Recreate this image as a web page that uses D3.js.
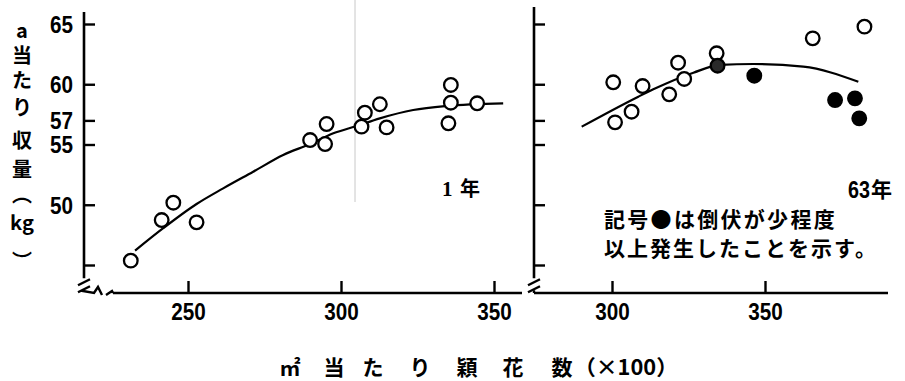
<!DOCTYPE html>
<html><head><meta charset="utf-8">
<script src="https://cdn.jsdelivr.net/npm/d3@7"></script>
<style>
body{margin:0;background:#fff;}
svg{display:block;}
.num{font-family:"Liberation Sans","DejaVu Sans",sans-serif;font-weight:bold;font-size:23px;}
.jp{font-family:"Noto Sans CJK JP","Noto Sans CJK SC",sans-serif;font-weight:bold;}
</style></head>
<body>
<svg id="c" width="905" height="381"></svg>
<script>
// ---------- data ----------
const yTicks = [45, 50, 55, 57, 60, 65];
const yTickLabels = ["", "50", "55", "57", "60", "65"];
const xTicksLeft = [250, 300, 350];
const xTicksRight = [300, 350];

// 1年 (left panel)
const leftX = [231.3, 241.4, 245.2, 252.8, 289.9, 294.8, 295.3, 306.7, 307.8, 312.7, 314.9, 335.9, 335.9, 335.1, 344.5];
const leftY = [45.36, 48.73, 50.17, 48.54, 55.37, 55.04, 56.70, 56.48, 57.64, 58.34, 56.42, 59.94, 58.47, 56.76, 58.42];
const leftCurveX = [232.7, 241.9, 252.8, 261.5, 271.3, 281.1, 289.9, 297.5, 305.1, 312.7, 323.6, 334.5, 353.0];
const leftCurveY = [46.19, 48.05, 50.06, 51.36, 52.74, 54.13, 55.04, 55.93, 56.54, 57.17, 57.86, 58.2, 58.42];

// 63年 (right panel): open = no lodging, filled = lodging, mixed = partial
const rightOpenX = [300.4, 301.0, 306.4, 310.0, 318.7, 321.6, 323.6, 334.2, 365.6, 382.5];
const rightOpenY = [60.16, 56.84, 57.72, 59.85, 59.16, 61.79, 60.44, 62.57, 63.81, 64.78];
const rightMixedX = [334.5];
const rightMixedY = [61.54];
const rightFilledX = [346.5, 372.9, 379.4, 380.8];
const rightFilledY = [60.71, 58.69, 58.83, 57.17];
const rightCurveX = [290.1, 308.6, 313.5, 326.6, 335.3, 346.2, 362.5, 380.5];
const rightCurveY = [56.48, 58.97, 59.58, 60.96, 61.6, 61.68, 61.46, 60.21];

// ---------- drawing ----------
const svg = d3.select("#c");
const y = d3.scaleLinear().domain([45, 65]).range([265, 24]);
const xL = d3.scaleLinear().domain([250, 350]).range([188, 494]);
const xR = d3.scaleLinear().domain([300, 350]).range([612, 765]);
const axisY = 293;
const R = 6.8;
const DIGIT = 11.5;

// scan artifact line
svg.append("line").attr("x1", 355).attr("x2", 355).attr("y1", 0).attr("y2", 202)
  .attr("stroke", "#c8c8c8").attr("stroke-width", 1);

function narrow(sel) {
  sel.attr("class", "num").attr("fill", "#000")
    .attr("textLength", function () { return this.textContent.length * DIGIT; })
    .attr("lengthAdjust", "spacingAndGlyphs");
}

function panel(x, x0, yTop, xEnd, xStart, ticksX, showLabels, squiggle) {
  const g = svg.append("g");
  const ay = d3.axisLeft(y).tickValues(yTicks).tickSize(-11).tickPadding(11)
    .tickFormat((d, i) => showLabels ? yTickLabels[i] : "");
  const gy = g.append("g").attr("transform", `translate(${x0},0)`).call(ay);
  gy.select(".domain").remove();
  gy.selectAll("line").attr("stroke", "#000").attr("stroke-width", 2.4);
  gy.selectAll("text").call(narrow).attr("dy", "0.36em");
  gy.selectAll("text").filter(function () { return this.textContent === ""; }).remove();
  const ax = d3.axisBottom(x).tickValues(ticksX).tickSize(-12).tickPadding(11).tickFormat(d3.format("d"));
  const gx = g.append("g").attr("transform", `translate(0,${axisY})`).call(ax);
  gx.select(".domain").remove();
  gx.selectAll("line").attr("stroke", "#000").attr("stroke-width", 2.4);
  gx.selectAll("text").call(narrow);
  const yb = y(43.9);
  g.append("line").attr("x1", x0).attr("x2", x0).attr("y1", yTop).attr("y2", yb)
    .attr("stroke", "#000").attr("stroke-width", 2.6);
  [0, 7].forEach(o => {
    g.append("line").attr("x1", x0 - 6).attr("y1", yb + 7 + o).attr("x2", x0 + 6).attr("y2", yb + 1 + o)
      .attr("stroke", "#000").attr("stroke-width", 2.4);
  });
  if (squiggle) {
    g.append("path").attr("d", `M${x0},${yb + 12} L${x0 - 1},${axisY - 2} L${x0 + 10},${axisY} L${x0 + 14},${axisY - 6} L${x0 + 18},${axisY + 2} M${x0 + 22},${axisY + 2} L${x0 + 28},${axisY - 2} L${xStart},${axisY}`)
      .attr("fill", "none").attr("stroke", "#000").attr("stroke-width", 2.4);
  } else {
    g.append("line").attr("x1", x0).attr("x2", x0).attr("y1", yb + 12).attr("y2", axisY)
      .attr("stroke", "#000").attr("stroke-width", 2.4);
  }
  g.append("line").attr("x1", xStart).attr("x2", xEnd).attr("y1", axisY).attr("y2", axisY)
    .attr("stroke", "#000").attr("stroke-width", 2.6);
  return g;
}

const gL = panel(xL, 84, 12, 522, 113, xTicksLeft, true, true);
const gR = panel(xR, 534, 7, 888, 534, xTicksRight, false, false);

function curve(g, x, xs, ys) {
  const pts = xs.map((v, i) => [x(v), y(ys[i])]);
  g.append("path").attr("d", d3.line().curve(d3.curveMonotoneX)(pts))
    .attr("fill", "none").attr("stroke", "#000").attr("stroke-width", 2.2);
}
function dots(g, x, xs, ys, fill) {
  g.selectAll(null).data(xs.map((v, i) => [v, ys[i]])).enter().append("circle")
    .attr("cx", d => x(d[0])).attr("cy", d => y(d[1])).attr("r", R)
    .attr("fill", fill).attr("stroke", "#000").attr("stroke-width", 2.3);
}

curve(gL, xL, leftCurveX, leftCurveY);
dots(gL, xL, leftX, leftY, "#fff");
curve(gR, xR, rightCurveX, rightCurveY);
dots(gR, xR, rightOpenX, rightOpenY, "#fff");
dots(gR, xR, rightMixedX, rightMixedY, "#2a2a2a");
dots(gR, xR, rightFilledX, rightFilledY, "#000");

// y axis title (vertical)
const yTitle = [["a", 31], ["当", 56], ["た", 81], ["り", 108], ["収", 141], ["量", 170], ["︵", 195], ["kg", 223], ["︶", 262]];
svg.append("g").selectAll("text").data(yTitle).enter().append("text")
  .attr("class", "jp").attr("x", 22).attr("y", d => d[1]).attr("dy", "0.36em")
  .attr("text-anchor", "middle").attr("font-size", 20).attr("fill", "#000").text(d => d[0]);

// panel labels
svg.append("text").attr("x", 442).attr("y", 196).attr("font-family", "Liberation Serif")
  .attr("font-weight", "bold").attr("font-size", 21).text("1");
svg.append("text").attr("class", "jp").attr("x", 460).attr("y", 196).attr("font-size", 20).text("年");
svg.append("text").attr("class", "num").attr("x", 848).attr("y", 198).attr("font-size", 22)
  .attr("textLength", 22).attr("lengthAdjust", "spacingAndGlyphs").text("63");
svg.append("text").attr("class", "jp").attr("x", 871).attr("y", 197).attr("font-size", 21).text("年");

// note
svg.append("text").attr("class", "jp").attr("x", 604).attr("y", 227).attr("font-size", 21)
  .attr("letter-spacing", 2.3).text("記号●は倒伏が少程度");
svg.append("text").attr("class", "jp").attr("x", 604).attr("y", 256).attr("font-size", 21)
  .attr("letter-spacing", 2.0).text("以上発生したことを示す。");

// x axis title
const xTitle = [["㎡", 290], ["当", 334], ["た", 373], ["り", 420], ["穎", 467], ["花", 513], ["数", 562]];
const tg = svg.append("g");
tg.selectAll("text").data(xTitle).enter().append("text").attr("class", "jp")
  .attr("x", d => d[1]).attr("y", 375).attr("text-anchor", "middle").attr("font-size", 21).text(d => d[0]);
tg.append("text").attr("class", "jp").attr("x", 574).attr("y", 375).attr("font-size", 21)
  .attr("textLength", 104).attr("lengthAdjust", "spacingAndGlyphs").text("（×100）");
</script>
</body></html>
